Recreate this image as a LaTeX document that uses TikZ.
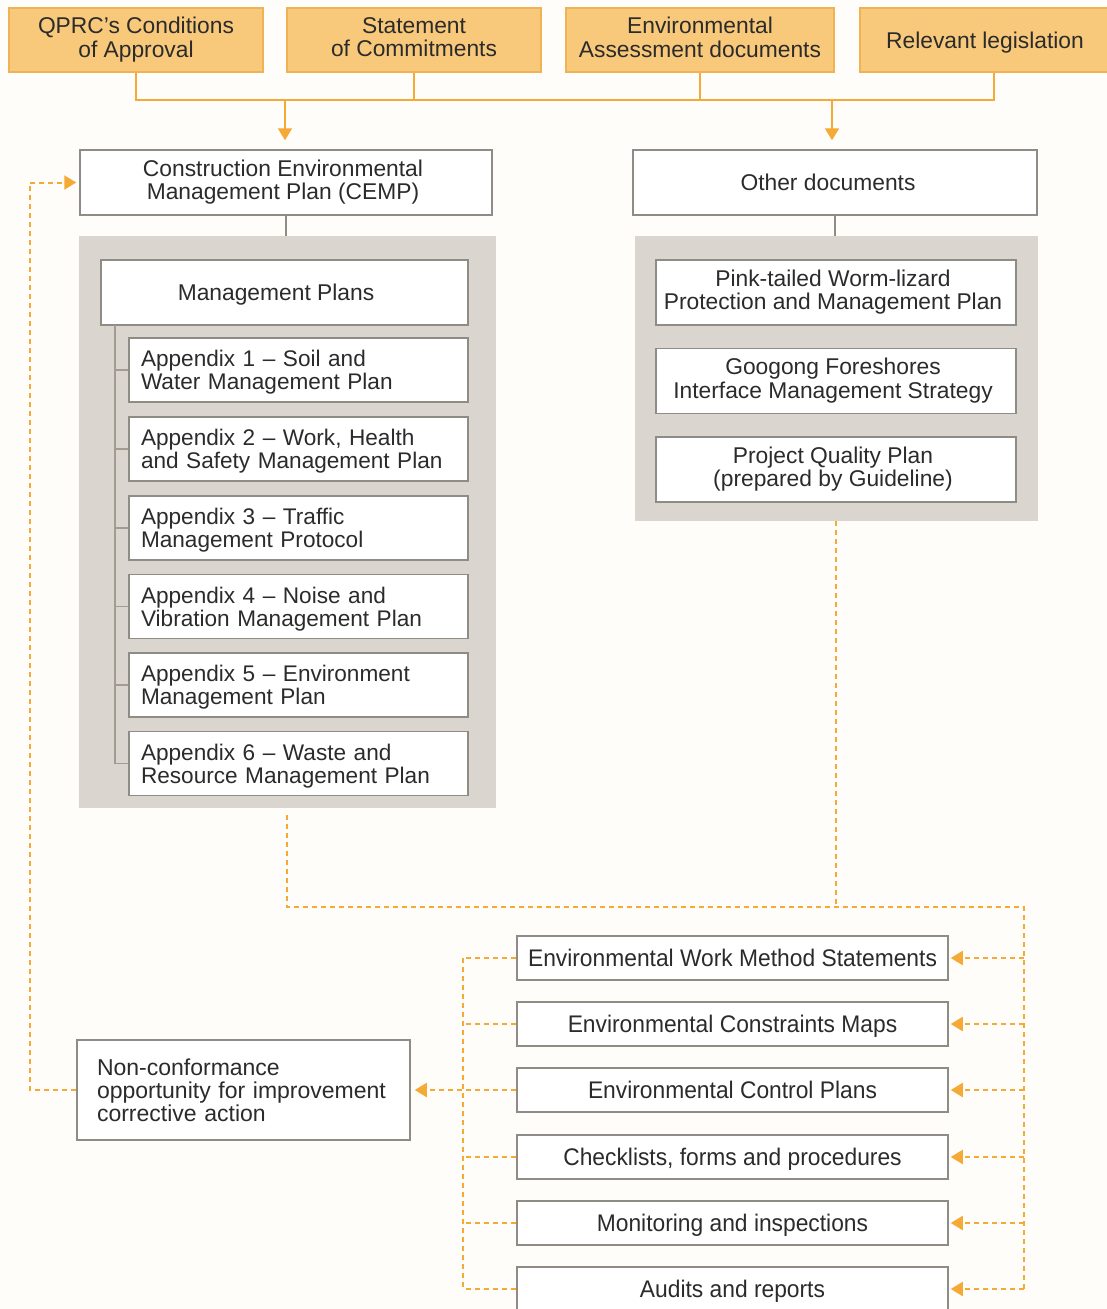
\documentclass[tikz,border=0pt]{standalone}
\usepackage{fontspec}
\setmainfont{Liberation Sans}
\newfontfamily\narrowfont[FakeStretch=0.95]{Liberation Sans}
\usetikzlibrary{arrows.meta}
\definecolor{bgc}{HTML}{FEFDFA}
\definecolor{orfill}{HTML}{F9C97B}
\definecolor{ordraw}{HTML}{EFB255}
\definecolor{orline}{HTML}{F4AA35}
\definecolor{panelc}{HTML}{DAD5CE}
\definecolor{boxline}{HTML}{8F8B85}
\definecolor{brline}{HTML}{A39B90}
\definecolor{txt}{HTML}{2B2B2B}
\newcommand\bst{\rule{0pt}{21.5pt}}
\newcommand\est{\rule[-5.4pt]{0pt}{0pt}}
\newcommand\lbst{\rule{0pt}{23pt}}
\newcommand\lest{\rule[-5.8pt]{0pt}{0pt}}
\tikzset{
  basefont/.style={text=txt, font=\fontsize{22.8}{23.4}\selectfont, execute at begin node=\bst, execute at end node=\est},
  apfont/.style={text=txt, font=\fontsize{22.6}{23}\selectfont, execute at begin node=\bst, execute at end node=\est},
  topbox/.style={basefont, draw=ordraw, fill=orfill, line width=1.5pt, minimum width=#1, minimum height=64pt, align=center, inner sep=0pt},
  wbox/.style={basefont, draw=boxline, fill=white, line width=1.5pt, minimum width=#1, align=center, inner sep=0pt},
  apbox/.style={apfont, draw=boxline, fill=white, line width=1.5pt, minimum height=64pt, text width=315pt, inner xsep=12pt, inner ysep=0pt, align=left},
  lowbox/.style={text=txt, font=\narrowfont\fontsize{24}{26}\selectfont, execute at begin node=\lbst, execute at end node=\lest, draw=boxline, fill=white, line width=1.5pt, minimum width=431pt, minimum height=44pt, inner sep=0pt},
  panelbox/.style={fill=panelc, draw=none, inner sep=0pt},
  oline/.style={draw=orline, line width=2pt},
  dline/.style={draw=orline, line width=2pt, dash pattern=on 5pt off 4pt},
  gline/.style={draw=boxline, line width=1.5pt},
  bline/.style={draw=brline, line width=1.6pt},
  tip/.style={-{Triangle[length=12pt,width=14pt]}},
}
\begin{document}
\begin{tikzpicture}[x=1pt,y=-1pt]
\fill[bgc] (0,0) rectangle (1107,1309);
\useasboundingbox (0,0) rectangle (1107,1309);

% top source boxes
\node[topbox=254pt] (q) at (136,40) {QPRC's Conditions\\of Approval};
\node[topbox=254pt] (s) at (414,40) {Statement\\of Commitments};
\node[topbox=268pt] (e) at (700,40) {Environmental\\Assessment documents};
\node[topbox=250pt] (r) at (985,40) {Relevant legislation};

% main boxes
\node[wbox=412pt, minimum height=65pt] (cemp) at (286,182.5) {\hspace*{-6pt}Construction Environmental\\\hspace*{-6pt}Management Plan (CEMP)};
\node[wbox=404pt, minimum height=65pt] (other) at (835,182.5) {\hspace*{-14pt}Other documents};

% panels
\node[panelbox, minimum width=417pt, minimum height=572pt] (pl) at (287,522) {};
\node[panelbox, minimum width=403pt, minimum height=285pt] (pr) at (836,378.5) {};

% management plans
\node[wbox=367pt, minimum height=65pt] (mp) at (284.5,292.5) {\hspace*{-17pt}Management Plans};
\node[apbox] (a1) at (298.5,370) {Appendix 1 -- Soil and\\Water Management Plan};
\node[apbox] (a2) at (298.5,449) {Appendix 2 -- Work, Health\\and Safety Management Plan};
\node[apbox] (a3) at (298.5,528) {Appendix 3 -- Traffic\\Management Protocol};
\node[apbox] (a4) at (298.5,606.5) {Appendix 4 -- Noise and\\Vibration Management Plan};
\node[apbox] (a5) at (298.5,685) {Appendix 5 -- Environment\\Management Plan};
\node[apbox] (a6) at (298.5,763.5) {Appendix 6 -- Waste and\\Resource Management Plan};

% other documents
\node[wbox=360pt, minimum height=65pt] (o1) at (836,292.5) {\hspace*{-6pt}Pink-tailed Worm-lizard\\\hspace*{-6pt}Protection and Management Plan};
\node[wbox=360pt, minimum height=65pt] (o2) at (836,381) {\hspace*{-6pt}Googong Foreshores\\\hspace*{-6pt}Interface Management Strategy};
\node[wbox=360pt, minimum height=65pt] (o3) at (836,469.5) {\hspace*{-6pt}Project Quality Plan\\\hspace*{-6pt}(prepared by Guideline)};

% lower boxes
\node[lowbox] (b1) at (732.5,958) {Environmental Work Method Statements};
\node[lowbox] (b2) at (732.5,1024) {Environmental Constraints Maps};
\node[lowbox] (b3) at (732.5,1090) {Environmental Control Plans};
\node[lowbox] (b4) at (732.5,1157) {Checklists, forms and procedures};
\node[lowbox] (b5) at (732.5,1223) {Monitoring and inspections};
\node[lowbox] (b6) at (732.5,1289) {Audits and reports};

\node[text=txt, font=\fontsize{23}{23}\selectfont, execute at begin node=\bst, execute at end node=\est, draw=boxline, fill=white, line width=1.5pt, minimum height=100pt, text width=293pt, inner xsep=20pt, inner ysep=0pt, align=left] (nc) at (243.5,1090) {Non-conformance\\opportunity for improvement\\corrective action};

% solid orange connectors
\coordinate (j1) at (285,100);
\coordinate (j2) at (832,100);
\coordinate (rj) at ([xshift=9pt]r.south);
\draw[oline] (q.south) -- (q.south |- j1) -- (rj |- j1) -- (rj);
\draw[oline] (s.south) -- (s.south |- j1);
\draw[oline] (e.south) -- (e.south |- j1);
\draw[oline, tip, shorten >=9pt] (j1) -- (j1 |- cemp.north);
\draw[oline, tip, shorten >=9pt] (j2) -- (j2 |- other.north);

% gray connectors
\draw[gline] (cemp.south) -- (cemp.south |- pl.north);
\draw[gline] (other.south) -- (other.south |- pr.north);

% bracket in management plans
\coordinate (bt) at (115,325);
\draw[bline] (bt) -- (bt |- a6.west) -- (a6.west);
\foreach \n in {a1,a2,a3,a4,a5} \draw[bline] (bt |- \n.west) -- (\n.west);

% dashed orange connectors
\coordinate (dj) at (1024,907);
\draw[dline, shorten <=7pt] (pl.south) -- (pl.south |- dj) -- (dj) -- (dj |- b6.east);
\draw[dline] (pr.south) -- (pr.south |- dj);
\foreach \n in {b1,b2,b3,b4,b5,b6} \draw[dline, tip, shorten >=2pt] (dj |- \n.east) -- (\n.east);

\coordinate (lv) at (463,958);
\draw[dline] (lv |- b1.west) -- (lv |- b6.west);
\foreach \n in {b1,b2,b4,b5,b6} \draw[dline] (\n.west) -- (lv |- \n.west);
\draw[dline, tip, shorten >=4pt] (b3.west) -- (nc.east);

\coordinate (fb) at (30,182);
\draw[dline, tip, shorten >=3pt] (nc.west) -- (fb |- nc.west) -- (fb |- cemp.west) -- (cemp.west);
\end{tikzpicture}
\end{document}
